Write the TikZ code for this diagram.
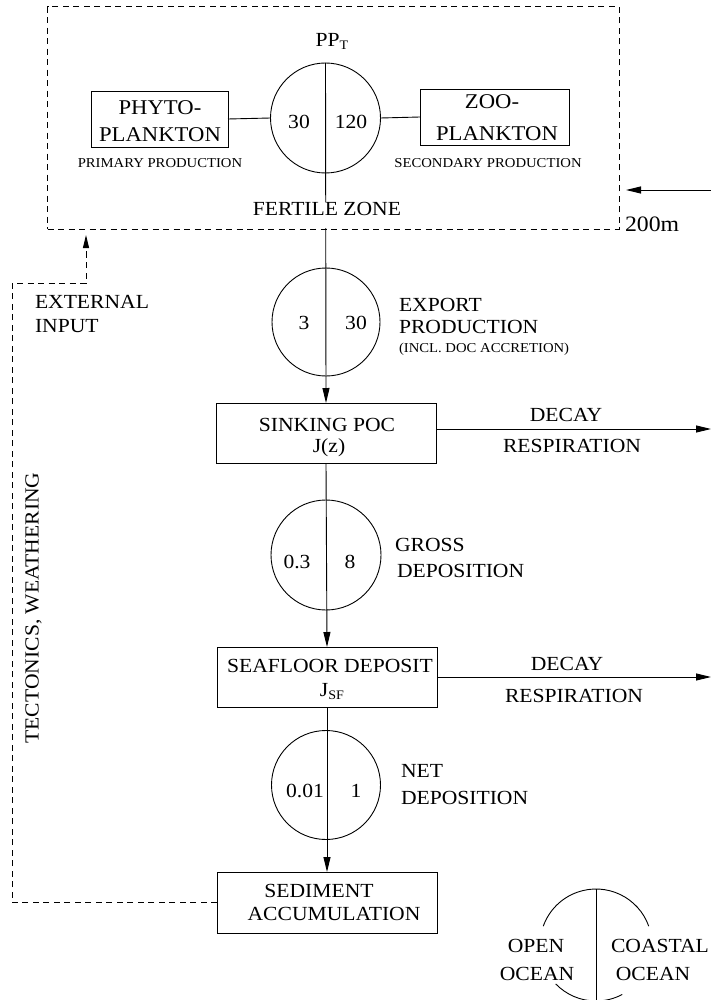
\documentclass[tikz,border=0pt]{standalone}
\usepackage{fontspec}
\setmainfont{Liberation Serif}[FakeStretch=1.08]
\usetikzlibrary{arrows.meta}
\newcommand\mainsz{\fontsize{20}{24}\selectfont}
\newcommand\bigsz{\fontsize{21}{25}\selectfont}
\newcommand\smallsz{\fontsize{13.6}{16}\selectfont}
\newcommand\subsz{\fontsize{13}{13}\selectfont}
\begin{document}
\begin{tikzpicture}[x=1pt,y=-1pt,
  every node/.style={inner sep=0pt, outer sep=0pt},
  txt/.style={font=\mainsz, anchor=base},
  btxt/.style={font=\bigsz, anchor=base},
  ltxt/.style={font=\mainsz, anchor=base west},
  stxt/.style={font=\smallsz, anchor=base},
  sltxt/.style={font=\smallsz, anchor=base west},
  circ/.style={draw, circle, line width=0.9pt, minimum size=110pt},
  boxn/.style={draw, rectangle, line width=0.9pt},
  conn/.style={line width=0.9pt},
  arr/.style={conn, -{Triangle[length=15pt,width=7pt]}},
  dsh/.style={line width=0.9pt, dash pattern=on 6pt off 4.5pt},
]
\useasboundingbox (0,0) rectangle (711,1000);

% fertile zone (dashed region)
\node[draw, dsh, minimum width=571.4pt, minimum height=222.3pt] (fz) at (333.3,117.85) {};

% circles
\node[circ] (c1) at (325.5,118) {};
\node[circ, minimum size=108pt] (c2) at (326,322) {};
\node[circ] (c3) at (326,555) {};
\node[circ, minimum size=109pt] (c4) at (326,785) {};

% boxes
\node[boxn, minimum width=137pt, minimum height=56pt] (phyto) at (159.5,119) {};
\node[boxn, minimum width=149pt, minimum height=56pt] (zoo) at (494.5,117) {};
\node[boxn, minimum width=220pt, minimum height=60pt] (sink) at (326,433) {};
\node[boxn, minimum width=220pt, minimum height=60pt] (sea) at (327,677) {};
\node[boxn, minimum width=220pt, minimum height=61pt] (sed) at (327,902.5) {};

% coordinates
\coordinate (ei) at (86,283);
\coordinate (tw) at (12,283);
\coordinate (inR) at (711,190);
\coordinate (d1) at (711,429);
\coordinate (d2) at (711,677);
\coordinate (lc) at (596,945);
\coordinate (lt) at (596,889);
\coordinate (lb) at (596,1001);

% connectors
\draw[conn] (phyto.east) -- (c1.west);
\draw[conn] (c1.east) -- (zoo.west);
\draw[arr] (c1.north) -- (sink.north);
\draw[arr] (sink.south) -- (sea.north);
\draw[arr] (sea.south) -- (sed.north);
\draw[arr] (sink.east |- d1) -- (d1);
\draw[arr] (sea.east) -- (d2);
\draw[arr] (inR) -- ([xshift=7pt]fz.east |- inR);
\draw[dsh, -{Triangle[length=13pt,width=6pt]}] (sed.west) -| (tw) -| ([yshift=-6pt]fz.south -| ei);

% texts top
\node[txt] (ppt) at (332,47) {PP\raisebox{-3pt}{\subsz T}};
\node[txt] (n30) at (299,128.5) {30};
\node[txt] (n120) at (351,128.5) {120};
\node[btxt] (ph1) at (160,115) {PHYTO-};
\node[btxt] (ph2) at (160,142) {PLANKTON};
\node[btxt] (zo1) at (492,109) {ZOO-};
\node[btxt] (zo2) at (497,141) {PLANKTON};
\node[stxt] (pp) at (160,168) {PRIMARY PRODUCTION};
\node[stxt] (sp) at (488,168) {SECONDARY PRODUCTION};
\node[txt, fill=white, inner xsep=2pt] (fzl) at (327,215) {\rule[-13pt]{0pt}{23pt}FERTILE ZONE};
\node[font=\fontsize{22}{26}\selectfont, anchor=base west] (m200) at (625,232) {200m};

% external input
\node[ltxt] (ext1) at (35,308) {EXTERNAL};
\node[ltxt] (ext2) at (35,332) {INPUT};
\node[font=\mainsz, rotate=90] (tec) at (33.5,608) {TECTONICS, WEATHERING};

% export production
\node[txt] (n3) at (304,329) {3};
\node[txt] (n30b) at (356,329) {30};
\node[ltxt] (ex1) at (399,311) {EXPORT};
\node[ltxt] (ex2) at (399,333) {PRODUCTION};
\node[sltxt] (ex3) at (399,352) {(INCL. DOC ACCRETION)};

% sinking POC
\node[txt] (sk1) at (327,431) {SINKING POC};
\node[txt] (sk2) at (329,452) {J(z)};
\node[txt] (dc1) at (566,421) {DECAY};
\node[txt] (rs1) at (572,452) {RESPIRATION};

% gross deposition
\node[txt] (n03) at (297,568) {0.3};
\node[txt] (n8) at (350,568) {8};
\node[ltxt] (gr1) at (395,551) {GROSS};
\node[ltxt] (gr2) at (397,577) {DEPOSITION};

% seafloor
\node[txt] (sf1) at (330,672) {SEAFLOOR DEPOSIT};
\node[txt] (sf2) at (332,696) {J\raisebox{-3.5pt}{\subsz SF}};
\node[txt] (dc2) at (567,670) {DECAY};
\node[txt] (rs2) at (574,702) {RESPIRATION};

% net deposition
\node[txt] (n001) at (305,797) {0.01};
\node[txt] (n1) at (356,797) {1};
\node[ltxt] (nt1) at (401,777) {NET};
\node[ltxt] (nt2) at (401,804) {DEPOSITION};

% sediment
\node[txt] (sd1) at (319,897) {SEDIMENT};
\node[txt] (sd2) at (334,920) {ACCUMULATION};

% legend
\draw[conn] (lt) -- (lb);
\draw[conn] ([shift={(19.6:56pt)}]lc) arc[start angle=19.6, end angle=160.4, radius=56pt];
\draw[conn] ([shift={(224:56pt)}]lc) arc[start angle=224, end angle=270, radius=56pt];
\draw[conn] ([shift={(270:56pt)}]lc) arc[start angle=270, end angle=298, radius=56pt];
\node[txt] (lo1) at (536,952) {OPEN};
\node[txt] (lo2) at (537,980) {OCEAN};
\node[txt] (lc1) at (660,952) {COASTAL};
\node[txt] (lc2) at (653,980) {OCEAN};
\end{tikzpicture}
\end{document}
